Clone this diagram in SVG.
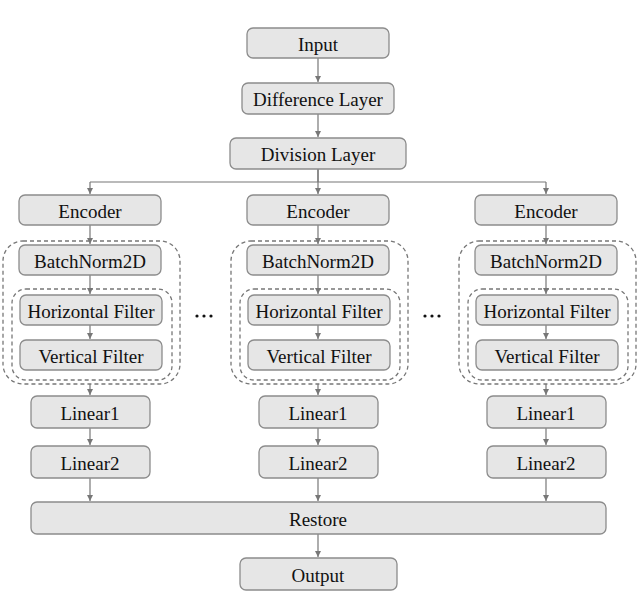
<svg xmlns="http://www.w3.org/2000/svg" width="640" height="592" viewBox="0 0 640 592">
<style>
.n{fill:#e6e6e6;stroke:#8c8c8c;stroke-width:1.3}
.t{font-family:'Times New Roman','Liberation Serif','DejaVu Serif',serif;font-size:19px;fill:#111;text-anchor:middle;dominant-baseline:central}
.d{fill:none;stroke:#777;stroke-width:1.3;stroke-dasharray:4 3}
.c{fill:none;stroke:#777;stroke-width:1.2}
.a{fill:none;stroke:#777;stroke-width:1.2;marker-end:url(#ah)}
.dot{fill:#111}
</style>
<defs>
<marker id="ah" markerWidth="8" markerHeight="8" refX="6" refY="3" orient="auto" markerUnits="userSpaceOnUse">
<path d="M0,0 L6,3 L0,6 Z" fill="#777"/>
</marker>
</defs>
<rect width="640" height="592" fill="#fff"/>
<g id="connectors">
<path class="a" d="M318,58 V82"/>
<path class="a" d="M318,114 V137"/>
<path class="c" d="M318,169 V182 M90,182 H546"/>
<path class="a" d="M90,182 V194"/>
<path class="a" d="M318,169 V194"/>
<path class="a" d="M546,182 V194"/>
<g id="branch-arrows">
<path class="a" d="M90,225 V244"/>
<path class="a" d="M90,275 V294"/>
<path class="a" d="M90,325 V339"/>
<path class="a" d="M90,384 V395"/>
<path class="a" d="M90,428 V445"/>
<path class="a" d="M90,478 V501"/>
<path class="a" d="M318,225 V244"/>
<path class="a" d="M318,275 V294"/>
<path class="a" d="M318,325 V339"/>
<path class="a" d="M318,384 V395"/>
<path class="a" d="M318,428 V445"/>
<path class="a" d="M318,478 V501"/>
<path class="a" d="M546,225 V244"/>
<path class="a" d="M546,275 V294"/>
<path class="a" d="M546,325 V339"/>
<path class="a" d="M546,384 V395"/>
<path class="a" d="M546,428 V445"/>
<path class="a" d="M546,478 V501"/>
</g>
<path class="a" d="M318,534 V557"/>
</g>
<g id="input"><rect class="n" x="247" y="28" width="142" height="30" rx="6"/><text class="t" x="318" y="44">Input</text></g>
<g id="difference"><rect class="n" x="242" y="83" width="152" height="31" rx="6"/><text class="t" x="318" y="99">Difference Layer</text></g>
<g id="division"><rect class="n" x="230" y="138" width="176" height="31" rx="6"/><text class="t" x="318" y="154">Division Layer</text></g>

<g id="branch1">
<rect class="n" x="19" y="195" width="142" height="30" rx="6"/><text class="t" x="90" y="211">Encoder</text>
<rect class="d" x="3" y="241" width="177" height="143" rx="20"/>
<rect class="n" x="19" y="245" width="142" height="30" rx="6"/><text class="t" x="90" y="261">BatchNorm2D</text>
<rect class="d" x="12" y="289" width="160" height="91" rx="14"/>
<rect class="n" x="20" y="295" width="142" height="30" rx="6"/><text class="t" x="91" y="311">Horizontal Filter</text>
<rect class="n" x="20" y="340" width="142" height="30" rx="6"/><text class="t" x="91" y="356">Vertical Filter</text>
<rect class="n" x="31" y="396" width="119" height="32" rx="6"/><text class="t" x="90" y="413">Linear1</text>
<rect class="n" x="31" y="446" width="119" height="32" rx="6"/><text class="t" x="90" y="463">Linear2</text>
</g>
<g id="branch2">
<rect class="n" x="247" y="195" width="142" height="30" rx="6"/><text class="t" x="318" y="211">Encoder</text>
<rect class="d" x="231" y="241" width="177" height="143" rx="20"/>
<rect class="n" x="247" y="245" width="142" height="30" rx="6"/><text class="t" x="318" y="261">BatchNorm2D</text>
<rect class="d" x="240" y="289" width="160" height="91" rx="14"/>
<rect class="n" x="248" y="295" width="142" height="30" rx="6"/><text class="t" x="319" y="311">Horizontal Filter</text>
<rect class="n" x="248" y="340" width="142" height="30" rx="6"/><text class="t" x="319" y="356">Vertical Filter</text>
<rect class="n" x="259" y="396" width="119" height="32" rx="6"/><text class="t" x="318" y="413">Linear1</text>
<rect class="n" x="259" y="446" width="119" height="32" rx="6"/><text class="t" x="318" y="463">Linear2</text>
</g>
<g id="branch3">
<rect class="n" x="475" y="195" width="142" height="30" rx="6"/><text class="t" x="546" y="211">Encoder</text>
<rect class="d" x="459" y="241" width="177" height="143" rx="20"/>
<rect class="n" x="475" y="245" width="142" height="30" rx="6"/><text class="t" x="546" y="261">BatchNorm2D</text>
<rect class="d" x="468" y="289" width="160" height="91" rx="14"/>
<rect class="n" x="476" y="295" width="142" height="30" rx="6"/><text class="t" x="547" y="311">Horizontal Filter</text>
<rect class="n" x="476" y="340" width="142" height="30" rx="6"/><text class="t" x="547" y="356">Vertical Filter</text>
<rect class="n" x="487" y="396" width="119" height="32" rx="6"/><text class="t" x="546" y="413">Linear1</text>
<rect class="n" x="487" y="446" width="119" height="32" rx="6"/><text class="t" x="546" y="463">Linear2</text>
</g>
<g id="ellipsis1"><circle class="dot" cx="197" cy="316" r="1.6"/><circle class="dot" cx="204" cy="316" r="1.6"/><circle class="dot" cx="211" cy="316" r="1.6"/></g>
<g id="ellipsis2"><circle class="dot" cx="425" cy="316" r="1.6"/><circle class="dot" cx="432" cy="316" r="1.6"/><circle class="dot" cx="439" cy="316" r="1.6"/></g>
<g id="restore"><rect class="n" x="31" y="502" width="575" height="32" rx="6"/><text class="t" x="318" y="519">Restore</text></g>
<g id="output"><rect class="n" x="240" y="558" width="157" height="32" rx="6"/><text class="t" x="318" y="575">Output</text></g>
</svg>
